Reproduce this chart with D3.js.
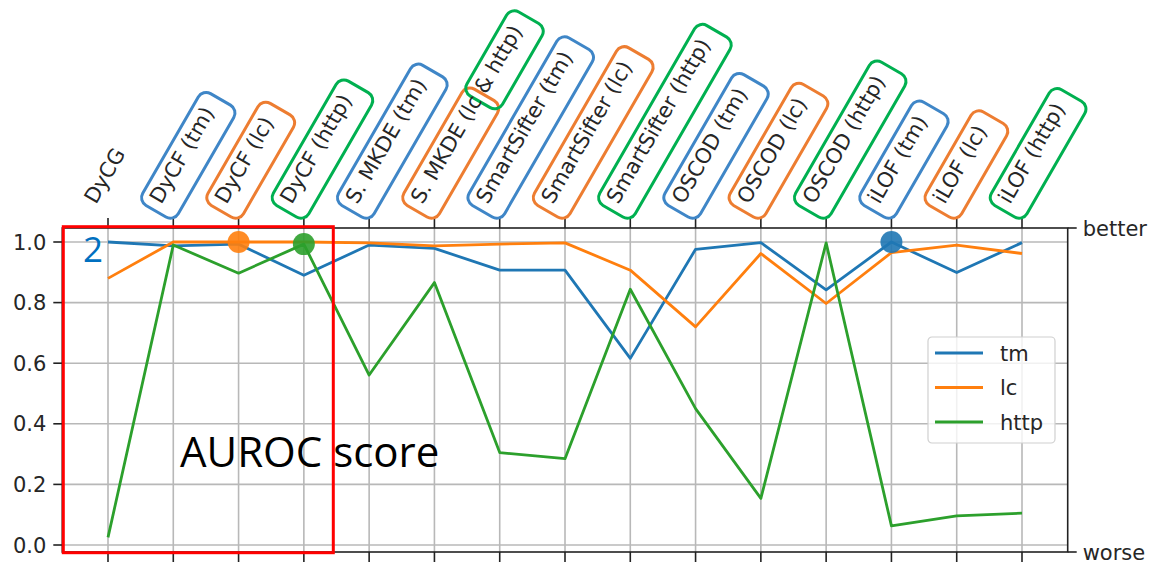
<!DOCTYPE html>
<html>
<head>
<meta charset="utf-8">
<script src="https://cdn.jsdelivr.net/npm/d3@7"></script>
<style>
  body { margin: 0; background: #fff; }
  svg { display: block; }
</style>
</head>
<body>
<svg id="chart" width="1153" height="567"></svg>
<script>
// x categories (detectors and the dataset they were tuned on)
const methods = [
  'DyCG', 'DyCF (tm)', 'DyCF (lc)', 'DyCF (http)', 'S. MKDE (tm)', 'S. MKDE (lc & http)',
  'SmartSifter (tm)', 'SmartSifter (lc)', 'SmartSifter (http)',
  'OSCOD (tm)', 'OSCOD (lc)', 'OSCOD (http)', 'iLOF (tm)', 'iLOF (lc)', 'iLOF (http)'
];

// AUROC per dataset
const tm   = [1.00, 0.987, 0.993, 0.89, 0.99, 0.979, 0.907, 0.907, 0.616, 0.976, 0.998, 0.842, 1.00, 0.899, 0.998];
const lc   = [0.88, 1.00, 1.00, 1.00, 0.997, 0.987, 0.993, 0.997, 0.907, 0.72, 0.962, 0.797, 0.965, 0.99, 0.962];
const http = [0.025, 0.99, 0.897, 0.993, 0.561, 0.866, 0.305, 0.285, 0.844, 0.45, 0.154, 0.997, 0.063, 0.096, 0.105];

const seriesNames = ['tm', 'lc', 'http'];
const yTicks = [0.0, 0.2, 0.4, 0.6, 0.8, 1.0];

// best detector per dataset (big dots)
const highlights = [
  { series: 'lc', method: 'DyCF (lc)' },
  { series: 'http', method: 'DyCF (http)' },
  { series: 'tm', method: 'iLOF (tm)' }
];

// which dataset each label box refers to
const labelBox = [null, 'tm', 'lc', 'http', 'tm', 'lc+http', 'tm', 'lc', 'http', 'tm', 'lc', 'http', 'tm', 'lc', 'http'];

const lineColor = { tm: '#1f77b4', lc: '#ff7f0e', http: '#2ca02c' };
const boxColor = { tm: '#3f86c7', lc: '#ed7d31', http: '#00b050' };
const values = { tm, lc, http };

const L = 62.3, R = 1067.7, T = 228, B = 552;
const svg = d3.select('#chart');
const font = '"DejaVu Sans", sans-serif';
const ink = '#262626';

const x = d3.scalePoint().domain(methods).range([L, R]).padding(0.7);
const y = d3.scaleLinear().domain([-0.0231, 1.0462]).range([B, T]);

// grid
const grid = svg.append('g').attr('stroke', '#b8b8b8').attr('stroke-width', 1.6);
grid.selectAll('line.v').data(methods).join('line').attr('class', 'v')
  .attr('x1', d => x(d)).attr('x2', d => x(d)).attr('y1', T).attr('y2', B);
grid.selectAll('line.h').data(yTicks).join('line').attr('class', 'h')
  .attr('x1', L).attr('x2', R).attr('y1', d => y(d)).attr('y2', d => y(d));

// series lines
const line = d3.line().x((d, i) => x(methods[i])).y(d => y(d));
svg.append('g').selectAll('path').data(seriesNames).join('path')
  .attr('d', s => line(values[s]))
  .attr('fill', 'none')
  .attr('stroke', s => lineColor[s])
  .attr('stroke-width', 2.8)
  .attr('stroke-linejoin', 'round');

// highlighted points
svg.append('g').selectAll('circle').data(highlights).join('circle')
  .attr('cx', d => x(d.method))
  .attr('cy', d => y(values[d.series][methods.indexOf(d.method)]))
  .attr('r', 11)
  .attr('fill', d => lineColor[d.series])
  .attr('opacity', 0.9);

// frame
svg.append('rect').attr('x', L).attr('y', T).attr('width', R - L).attr('height', B - T)
  .attr('fill', 'none').attr('stroke', '#222').attr('stroke-width', 1.6);

// ticks: left, top, bottom, right
const ticks = svg.append('g').attr('stroke', '#222').attr('stroke-width', 1.6);
ticks.selectAll('line.l').data(yTicks).join('line').attr('class', 'l')
  .attr('x1', L - 9).attr('x2', L).attr('y1', d => y(d)).attr('y2', d => y(d));
ticks.selectAll('line.t').data(methods).join('line').attr('class', 't')
  .attr('x1', d => x(d)).attr('x2', d => x(d)).attr('y1', T - 10).attr('y2', T);
ticks.selectAll('line.b').data(methods).join('line').attr('class', 'b')
  .attr('x1', d => x(d)).attr('x2', d => x(d)).attr('y1', B).attr('y2', B + 10);
ticks.selectAll('line.r').data([T, B]).join('line').attr('class', 'r')
  .attr('x1', R).attr('x2', R + 9).attr('y1', d => d).attr('y2', d => d);

svg.append('g').selectAll('text').data(yTicks).join('text')
  .attr('x', L - 16).attr('y', d => y(d)).attr('dy', '0.36em')
  .attr('text-anchor', 'end')
  .attr('font-family', font).attr('font-size', 21).attr('fill', ink)
  .text(d => d.toFixed(1));

svg.append('g').selectAll('text').data([['better', T], ['worse', B]]).join('text')
  .attr('x', R + 15).attr('y', d => d[1]).attr('dy', '0.36em')
  .attr('font-family', font).attr('font-size', 21).attr('fill', ink)
  .text(d => d[0]);

// rotated top labels with coloured boxes
const labels = svg.append('g').selectAll('g').data(methods).join('g')
  .attr('transform', d => `translate(${x(d) - 12},205) rotate(-60)`);
labels.append('text')
  .attr('font-family', font).attr('font-size', 21).attr('fill', ink)
  .text(d => d);
labels.each(function (d, i) {
  const g = d3.select(this);
  const t = g.select('text').node();
  const w = t.getComputedTextLength();
  const kind = labelBox[i];
  if (!kind) return;
  let spans;
  if (kind === 'lc+http') {
    const cut = t.getSubStringLength(0, 11);
    spans = [['lc', -8, cut + 6], ['http', cut - 2, w + 14]];
  } else {
    spans = [[kind, -8, w + 14]];
  }
  spans.forEach(([k, a, b]) => {
    g.insert('rect', 'text')
      .attr('x', a).attr('y', -22).attr('width', b - a).attr('height', 41)
      .attr('rx', 9).attr('fill', 'none')
      .attr('stroke', boxColor[k]).attr('stroke-width', 3);
  });
});

// legend
const lg = svg.append('g').attr('transform', 'translate(928,337)');
lg.append('rect').attr('width', 127).attr('height', 106).attr('rx', 4)
  .attr('fill', '#fff').attr('fill-opacity', 0.8).attr('stroke', '#d0d0d0').attr('stroke-width', 1.2);
const item = lg.selectAll('g').data(seriesNames).join('g')
  .attr('transform', (d, i) => `translate(0,${16 + i * 34.5})`);
item.append('line').attr('x1', 7).attr('x2', 55)
  .attr('stroke', d => lineColor[d]).attr('stroke-width', 2.8);
item.append('text').attr('x', 72).attr('dy', '0.36em')
  .attr('font-family', font).attr('font-size', 21).attr('fill', ink)
  .text(d => d);

// slide annotations
svg.append('rect').attr('x', 63.3).attr('y', 226.7).attr('width', 270).attr('height', 326)
  .attr('fill', 'none').attr('stroke', '#ff0000').attr('stroke-width', 3);
svg.append('text').attr('x', 83).attr('y', 262)
  .attr('font-family', '"Open Sans", sans-serif').attr('font-size', 35).attr('fill', '#0070c0')
  .text('2');
svg.append('text').attr('x', 180).attr('y', 467)
  .attr('font-family', '"Open Sans", sans-serif').attr('font-size', 42).attr('fill', '#000')
  .text('AUROC score');
</script>
</body>
</html>
